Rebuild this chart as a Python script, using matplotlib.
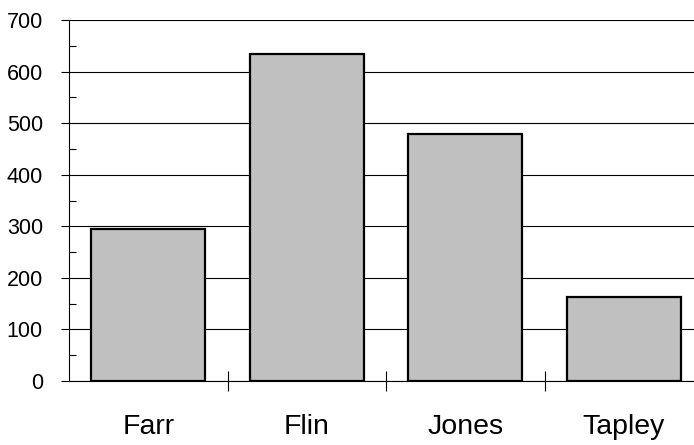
import matplotlib.pyplot as plt

# Data
names = ['Farr', 'Flin', 'Jones', 'Tapley']
values = [295, 635, 479, 163]

plt.rcParams['font.family'] = ['Liberation Sans', 'DejaVu Sans']

fig = plt.figure(figsize=(6.94, 4.45), dpi=100)
# axes runs a bit past the right edge, like the original
ax = fig.add_axes([69 / 694, 64 / 445, 634 / 694, 361 / 445])

pos = list(range(len(names)))
ax.bar(pos, values, width=0.72, color='#c0c0c0', edgecolor='black', linewidth=1.6, zorder=3)

ax.set_xlim(-0.5, len(names) - 0.5)
ax.set_ylim(0, 700)

# y axis: gridlines at each 100, small inward ticks in between
ax.set_yticks(range(0, 701, 100))
ax.set_yticks(range(50, 700, 100), minor=True)
ax.yaxis.grid(True, color='black', linewidth=0.8, zorder=0)
ax.tick_params(axis='y', which='major', direction='out', length=5.8, width=0.8,
               labelsize=15.5, pad=13)
ax.tick_params(axis='y', which='minor', direction='in', length=5, width=0.8)

# x axis: ticks between categories, labels under bars
ax.set_xticks([p + 0.5 for p in pos[:-1]])
ax.set_xticklabels([])
ax.set_xticks(pos, minor=True)
ax.set_xticklabels(names, minor=True)
ax.tick_params(axis='x', which='major', direction='inout', length=14.4, width=0.8)
ax.tick_params(axis='x', which='minor', length=0, labelsize=20.5, pad=24)

for side in ['top', 'right']:
    ax.spines[side].set_visible(False)
ax.spines['left'].set_linewidth(0.8)
ax.spines['bottom'].set_linewidth(0.8)
ax.spines['bottom'].set_zorder(4)

fig.savefig('out.png', dpi=100)
